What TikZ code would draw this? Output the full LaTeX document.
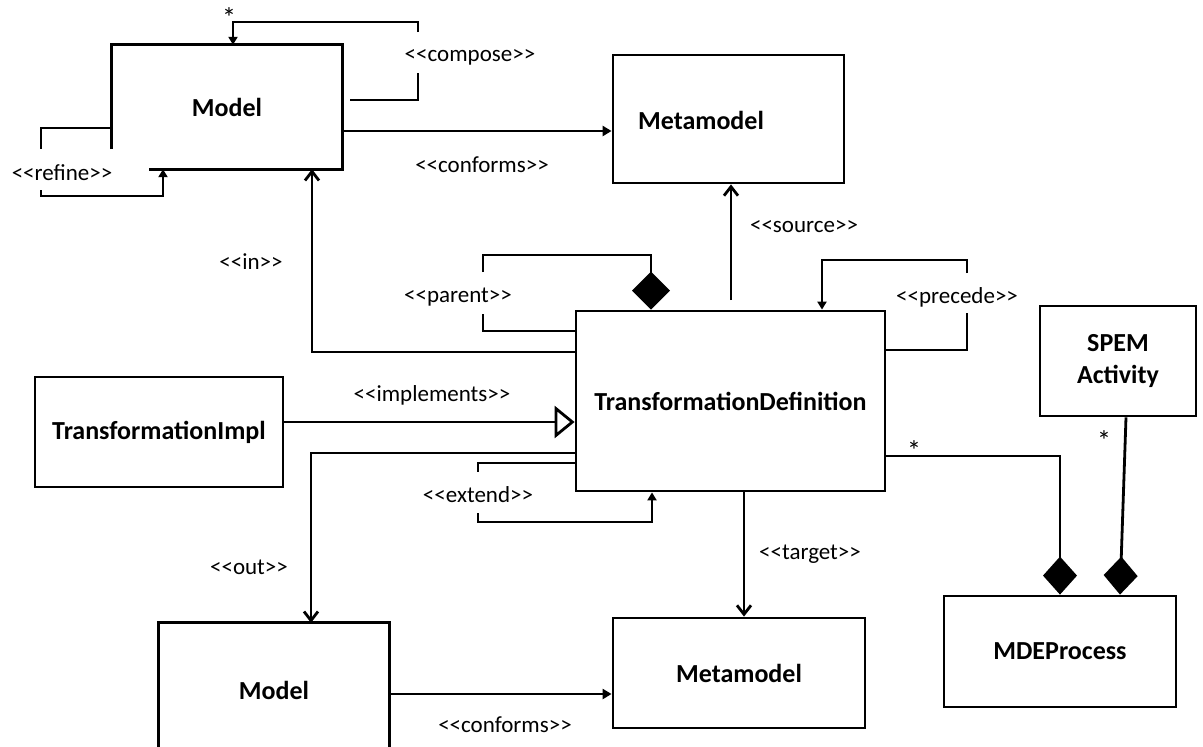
\documentclass[tikz,border=0pt]{standalone}
\usepackage{fontspec}
\setmainfont{Carlito}
\usetikzlibrary{arrows.meta,calc}
\newcommand\stt[1]{<\kern0pt<\kern0pt#1\kern0pt>\kern0pt>}
\begin{document}
\begin{tikzpicture}[x=1pt,y=-1pt,
  conn/.style={line width=2.8pt},
  boxnode/.style={draw,line width=2.8pt,inner sep=0pt,font=\fontsize{26}{32}\selectfont\bfseries,align=center},
  plain/.style={inner sep=0pt,font=\fontsize{26}{32}\selectfont\bfseries,align=center},
  stereo/.style={inner sep=0pt,font=\fontsize{23}{28}\selectfont},
  starlbl/.style={inner sep=0pt,font=\fontsize{28}{30}\selectfont},
  barb/.style={-{Straight Barb[length=9pt,width=14pt]}},
  tri/.style={-{Triangle[length=8pt,width=9pt]}},
  dia/.style={-{Diamond[length=38pt,width=38pt]}},
  opentri/.style={-{Triangle[open,fill=white,length=20pt,width=32pt]}},
]
\fill[white] (0,0) rectangle (1203,747);
\useasboundingbox (0,0) rectangle (1203,747);

% boxes
\node[plain, minimum width=230pt, minimum height=124pt] (m1) at (227,107) {Model};
\draw[conn] ([yshift=20pt]m1.south west) -- (m1.north west) -- (m1.north east) -- (m1.south east) -- ([xshift=37pt]m1.south west);
\node[boxnode, minimum width=231pt, minimum height=128pt] (mm1) at (728.5,119) {};
\node[plain] (mm1t) at (701,120) {Metamodel};
\node[boxnode, minimum width=309pt, minimum height=180pt] (td) at (730.5,401) {TransformationDefinition};
\node[boxnode, minimum width=156pt, minimum height=110pt] (spem) at (1118,361) {SPEM\\Activity};
\node[boxnode, minimum width=248pt, minimum height=110pt] (ti) at (159,432) {TransformationImpl};
\node[boxnode, minimum width=232pt, minimum height=111pt] (mde) at (1060,651.5) {MDEProcess};
\node[plain, minimum width=230pt, minimum height=134pt] (m2) at (274,690) {Model};
\draw[conn] (m2.west |- 0,747) -- (m2.north west) -- (m2.north east) -- (m2.east |- 0,747);
\node[boxnode, minimum width=252pt, minimum height=110pt] (mm2) at (739,673) {Metamodel};

% compose
\coordinate (c1) at (350,100);
\draw[conn] (c1) -| (418,73);
\draw[conn,tri] (418,32) |- (233,22) -- (233,0 |- m1.north);
\node[stereo] (lcompose) at (470,57) {\stt{compose}};
\node[starlbl] (star1) at (229,18) {*};

% refine
\draw[conn] (m1.west |- 0,128) -| (41,149);
\draw[conn,tri] (41,190) |- (163,196) -- (163,0 |- m1.south);
\node[stereo] (lrefine) at (62,173) {\stt{refine}};

% conforms top
\draw[conn,-{Triangle[length=9pt,width=10pt]}] (m1.east |- 0,131) -- (mm1.west |- 0,131);
\node[stereo] (lconf1) at (482,165) {\stt{conforms}};

% in
\draw[conn,barb] (td.west |- 0,352) -| (312,0 |- m1.south);
\node[stereo] (lin) at (251,262) {\stt{in}};

% parent
\draw[conn] (td.west |- 0,331) -| (483,314);
\draw[conn,dia] (483,272) |- (651,255) -- (651,0 |- td.north);
\node[stereo] (lparent) at (458,297) {\stt{parent}};

% source
\coordinate (s0) at (731,300);
\draw[conn,barb] (s0) -- (731,0 |- mm1.south);
\node[stereo] (lsource) at (804,227) {\stt{source}};

% precede
\draw[conn] (td.east |- 0,350) -| (967,313);
\draw[conn,tri] (967,273) |- (822,260) -- (822,0 |- td.north);
\node[stereo] (lprecede) at (957,297) {\stt{precede}};

% implements
\draw[conn,opentri] (ti.east |- 0,422) -- (td.west |- 0,422);
\node[stereo] (limpl) at (432,395) {\stt{implements}};

% out
\draw[conn,barb] (td.west |- 0,453) -| (311,0 |- m2.north);
\node[stereo] (lout) at (249,567) {\stt{out}};

% extend
\draw[conn] (td.west |- 0,463) -| (478,472);
\draw[conn,tri] (478,513) |- (652,522) -- (652,0 |- td.south);
\node[stereo] (lextend) at (478,495) {\stt{extend}};

% target
\draw[conn,barb] (744,0 |- td.south) -- (744,0 |- mm2.north);
\node[stereo] (ltarget) at (810,554) {\stt{target}};

% conforms bottom
\draw[conn,-{Triangle[length=9pt,width=10pt]}] (m2.east |- 0,694) -- (mm2.west |- 0,694);
\node[stereo] (lconf2) at (505,725) {\stt{conforms}};

% MDEProcess compositions
\draw[conn,-{Diamond[length=38pt,width=34pt]}] (td.east |- 0,456) -| (1060,0 |- mde.north);
\node[starlbl] (star2) at (914,451) {*};
\draw[conn,-{Diamond[length=38pt,width=34pt]}] (1126,0 |- spem.south) -- (1120,0 |- mde.north);
\node[starlbl] (star3) at (1104,441) {*};
\end{tikzpicture}
\end{document}
